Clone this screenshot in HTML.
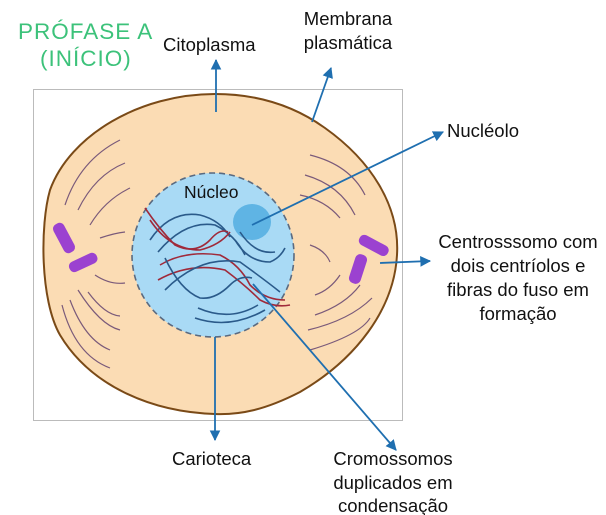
<!DOCTYPE html>
<html><head><meta charset="utf-8"><style>
html,body{margin:0;padding:0;background:#fff;}
svg{display:block;font-family:"Liberation Sans",sans-serif;}
</style></head><body>
<svg width="606" height="515" viewBox="0 0 606 515">
<defs>
<marker id="ar" viewBox="0 0 10 10" refX="9" refY="5" markerWidth="6" markerHeight="6" orient="auto-start-reverse"><path d="M0,0L10,5L0,10z" fill="#1f6fb0"/></marker>
</defs>
<text x="18" y="39" font-size="22.5" fill="#3cc27a" letter-spacing="1">PRÓFASE A</text>
<text x="40" y="66" font-size="22.5" fill="#3cc27a" letter-spacing="1">(INÍCIO)</text>
<rect x="33.5" y="89.5" width="369" height="331" fill="none" stroke="#bbb"/>
<path d="M215,94 C265,94 300,110 325,128 C370,160 400,205 397,255 C394,310 355,360 300,392 C265,410 240,415 215,414 C150,412 90,385 60,335 C40,300 40,225 50,190 C70,135 140,94 215,94 Z" fill="#fbdcb4" stroke="#7a4a17" stroke-width="2"/>
<g fill="none" stroke="#7a5a7a" stroke-width="1.2">
<path d="M65,205 Q80,160 120,140"/><path d="M78,210 Q95,175 125,163"/><path d="M90,225 Q105,200 130,188"/><path d="M100,238 Q115,233 125,232"/>
<path d="M95,275 Q110,285 125,283"/><path d="M78,290 Q100,325 120,330"/><path d="M70,300 Q85,340 110,350"/><path d="M62,305 Q75,355 110,368"/><path d="M88,292 Q105,315 120,316"/>
<path d="M310,155 Q350,165 365,195"/><path d="M305,175 Q340,185 355,215"/><path d="M300,195 Q325,200 340,218"/><path d="M310,245 Q325,250 330,262"/>
<path d="M315,295 Q330,290 340,275"/><path d="M315,315 Q345,305 360,285"/><path d="M308,330 Q350,320 372,298"/><path d="M310,350 Q360,335 370,318"/>
</g>
<g>
<rect x="58" y="222" width="12" height="32" rx="5" fill="#9b42d0" transform="rotate(-28 64 238)"/>
<rect x="68" y="257" width="30" height="11" rx="5" fill="#9b42d0" transform="rotate(-25 83 262)"/>
</g>
<g>
<rect x="358" y="240" width="32" height="11" rx="5" fill="#9b42d0" transform="rotate(28 374 245)"/>
<rect x="352" y="254" width="12" height="30" rx="5" fill="#9b42d0" transform="rotate(18 358 269)"/>
</g>
<ellipse cx="213" cy="255" rx="81" ry="82" fill="#a9daf5" stroke="#5a6a80" stroke-width="1.6" stroke-dasharray="6 4"/>
<ellipse cx="252" cy="222" rx="19" ry="18" fill="#5fb4e4"/>
<text x="184" y="198" font-size="17.5" fill="#111">Núcleo</text>
<g fill="none" stroke-width="1.6">
<path d="M150,240 Q170,210 200,215 Q220,220 230,237" stroke="#2a5a8a"/>
<path d="M158,252 Q185,220 215,225 Q235,235 245,255" stroke="#2a5a8a"/>
<path d="M145,208 Q160,230 175,245 Q195,255 210,240 Q220,228 228,232" stroke="#a02a3a"/>
<path d="M150,220 Q170,250 200,250 Q220,245 230,232" stroke="#a02a3a"/>
<path d="M160,265 Q185,250 220,255 Q240,265 250,285 Q265,300 285,300" stroke="#a02a3a"/>
<path d="M158,280 Q190,262 225,270 Q245,285 260,300 Q275,308 290,305" stroke="#a02a3a"/>
<path d="M165,290 Q200,255 240,262 Q265,280 280,292" stroke="#2a5a8a"/>
<path d="M165,258 Q180,290 200,298 Q215,300 230,285 Q240,275 252,278" stroke="#2a5a8a"/>
<path d="M195,318 Q230,330 265,310" stroke="#2a5a8a"/>
<path d="M198,308 Q230,322 258,305" stroke="#2a5a8a"/>
<path d="M235,240 Q248,262 270,262 Q280,258 285,248" stroke="#2a5a8a"/>
<path d="M240,232 Q255,255 275,252" stroke="#2a5a8a"/>
</g>
<g stroke="#1f6fb0" stroke-width="1.8" fill="none">
<line x1="216" y1="112" x2="216" y2="60" marker-end="url(#ar)"/>
<line x1="312" y1="122" x2="331" y2="68" marker-end="url(#ar)"/>
<line x1="252" y1="225" x2="443" y2="132" marker-end="url(#ar)"/>
<line x1="380" y1="263" x2="430" y2="261" marker-end="url(#ar)"/>
<line x1="215" y1="337" x2="215" y2="440" marker-end="url(#ar)"/>
<line x1="253" y1="284" x2="396" y2="450" marker-end="url(#ar)"/>
</g>
<g font-size="18.5" fill="#111">
<text x="163" y="51">Citoplasma</text>
<text x="348" y="25" text-anchor="middle">Membrana</text>
<text x="348" y="49" text-anchor="middle">plasmática</text>
<text x="447" y="137">Nucléolo</text>
<g text-anchor="middle">
<text x="518" y="248">Centrosssomo com</text>
<text x="518" y="272">dois centríolos e</text>
<text x="518" y="296">fibras do fuso em</text>
<text x="518" y="320">formação</text>
</g>
<text x="172" y="465">Carioteca</text>
<g text-anchor="middle">
<text x="393" y="465">Cromossomos</text>
<text x="393" y="489">duplicados em</text>
<text x="393" y="512">condensação</text>
</g>
</g>
</svg>
</body></html>
